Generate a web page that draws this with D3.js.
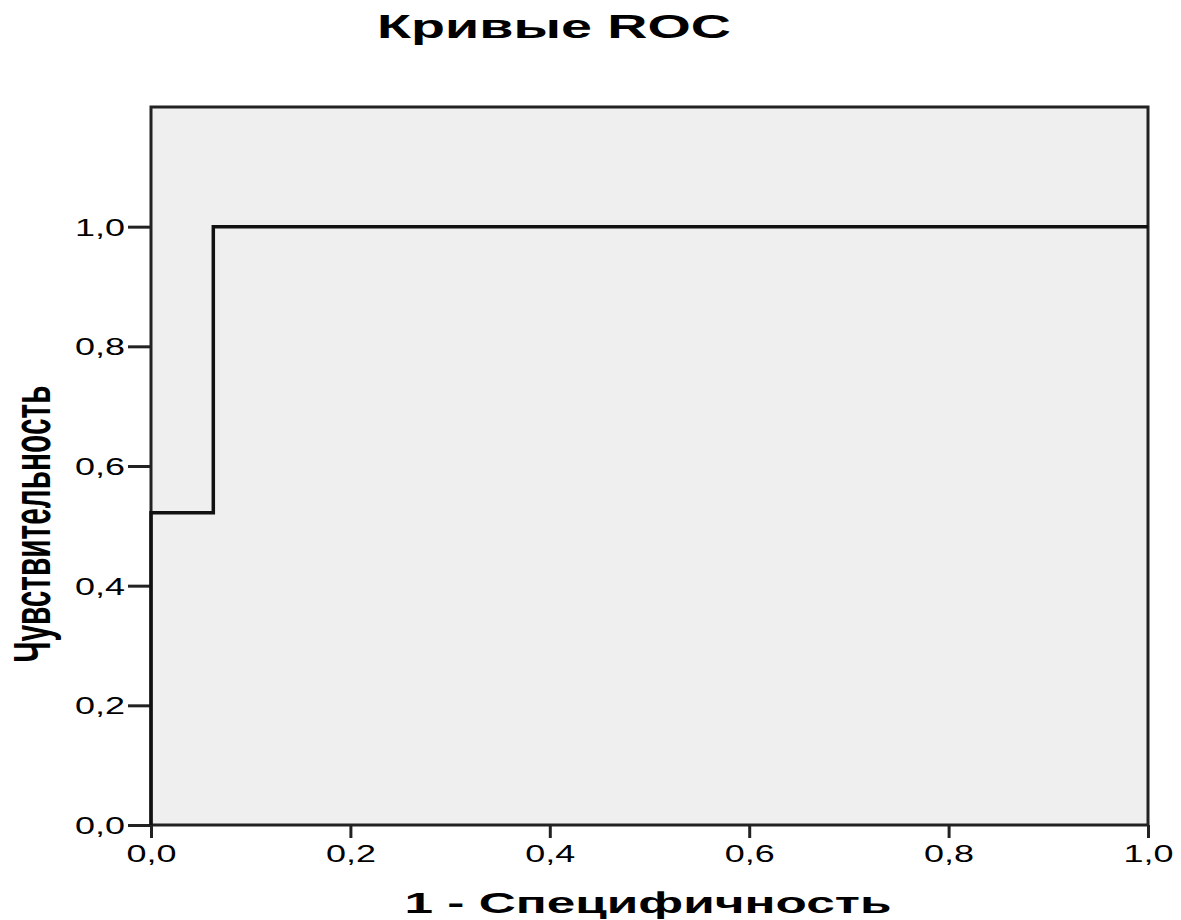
<!DOCTYPE html>
<html>
<head>
<meta charset="utf-8">
<script src="https://cdn.jsdelivr.net/npm/d3@7"></script>
<style>
  body { margin: 0; background: #fff; }
  text { font-family: "Liberation Sans", Arial, sans-serif; fill: #000; }
</style>
</head>
<body>
<div class="svg-container"></div>
<script>
// ROC curve points (1 - specificity, sensitivity)
var fpr = [0, 0, 0.0625, 0.0625, 1];
var tpr = [0, 0.522, 0.522, 1, 1];
var xTicks = [0, 0.2, 0.4, 0.6, 0.8, 1.0];
var yTicks = [0, 0.2, 0.4, 0.6, 0.8, 1.0];
var titleText = "Кривые ROC";
var xLabel = "1 - Специфичность";
var yLabel = "Чувствительность";

var W = 1181, H = 920;
var margin = {top: 107, right: 33, bottom: 95, left: 151},
    width = W - margin.left - margin.right,
    height = H - margin.top - margin.bottom;

var svg = d3.select(".svg-container").append("svg")
    .attr("width", W)
    .attr("height", H);

var g = svg.append("g")
    .attr("transform", "translate(" + margin.left + "," + margin.top + ")");

var xScale = d3.scaleLinear().domain([0, 1]).range([0, width]);
var yScale = d3.scaleLinear().domain([0, 1.2]).range([height, 0]);

var fmt = function(d) { return d3.format(".1f")(d).replace(".", ","); };

// plot background
g.append("rect")
    .attr("width", width)
    .attr("height", height)
    .attr("fill", "#efefef");

// axes
var xAxis = g.append("g")
    .attr("transform", "translate(0," + height + ")")
    .call(d3.axisBottom(xScale).tickValues(xTicks).tickFormat(fmt)
        .tickSize(13).tickSizeOuter(0).tickPadding(7));

var yAxis = g.append("g")
    .call(d3.axisLeft(yScale).tickValues(yTicks).tickFormat(fmt)
        .tickSize(23).tickSizeOuter(0).tickPadding(3));

[xAxis, yAxis].forEach(function(ax) {
    ax.select(".domain").remove();
    ax.selectAll("line").attr("stroke", "#222").attr("stroke-width", 3);
    ax.selectAll("text")
        .attr("font-size", 24)
        .attr("font-family", "Liberation Sans, Arial, sans-serif")
        .attr("textLength", 50)
        .attr("lengthAdjust", "spacingAndGlyphs");
});
xAxis.selectAll("text").attr("dy", "0.71em");
yAxis.selectAll("text").attr("dy", "0.35em");

// frame
g.append("rect")
    .attr("width", width)
    .attr("height", height)
    .attr("fill", "none")
    .attr("stroke", "#222")
    .attr("stroke-width", 3);

// ROC line
var pts = fpr.map(function(d, i) { return {x: d, y: tpr[i]}; });
var line = d3.line()
    .x(function(d) { return xScale(d.x); })
    .y(function(d) { return yScale(d.y); });

g.append("path")
    .datum(pts)
    .attr("fill", "none")
    .attr("stroke", "#111")
    .attr("stroke-width", 3.5)
    .attr("d", line);

// title
svg.append("text")
    .attr("x", 554)
    .attr("y", 38)
    .attr("text-anchor", "middle")
    .attr("font-size", 33)
    .attr("font-weight", "bold")
    .attr("textLength", 354)
    .attr("lengthAdjust", "spacingAndGlyphs")
    .text(titleText);

// x label
svg.append("text")
    .attr("x", 648)
    .attr("y", 913)
    .attr("text-anchor", "middle")
    .attr("font-size", 30)
    .attr("font-weight", "bold")
    .attr("textLength", 487)
    .attr("lengthAdjust", "spacingAndGlyphs")
    .text(xLabel);

// y label
svg.append("text")
    .attr("transform", "translate(50,524) rotate(-90)")
    .attr("text-anchor", "middle")
    .attr("font-size", 51)
    .attr("font-weight", "bold")
    .attr("textLength", 277)
    .attr("lengthAdjust", "spacingAndGlyphs")
    .text(yLabel);
</script>
</body>
</html>
